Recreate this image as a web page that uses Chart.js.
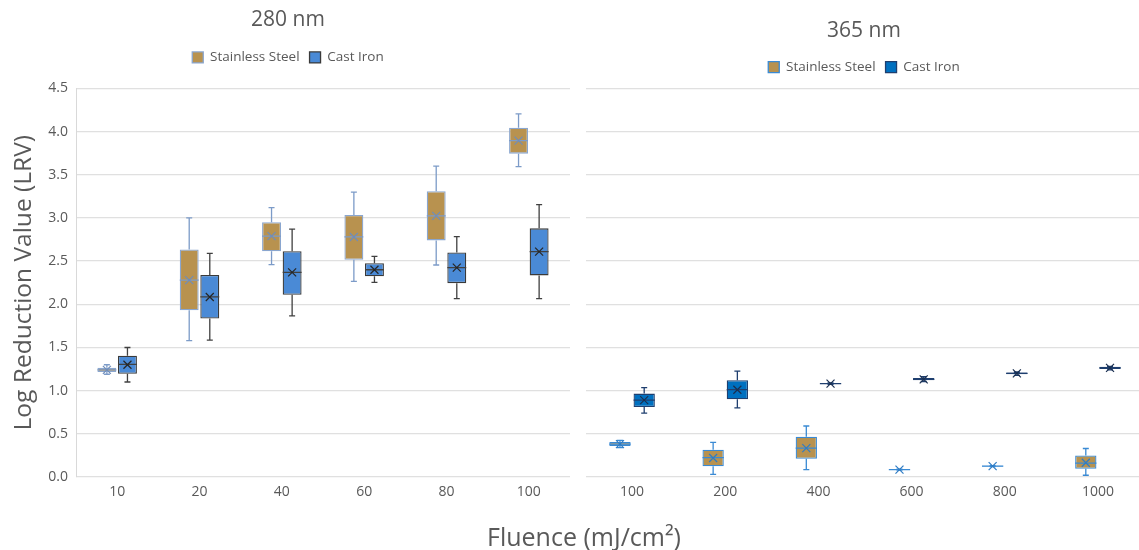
<!DOCTYPE html>
<html>
<head>
<meta charset="utf-8">
<script src="https://cdn.jsdelivr.net/npm/chart.js@4/dist/chart.umd.min.js"></script>
<style>
  html, body { margin: 0; padding: 0; background: #fff; overflow: hidden; }
  body { width: 1139px; height: 550px; position: relative; }
  canvas { position: absolute; top: 0; }
  #left { left: 0; }
  #right { left: 578px; }
  #xtitle {
    position: absolute; left: 0; width: 1168px; top: 519px;
    text-align: center; font: 25px "Open Sans", sans-serif; color: #595959;
  }
</style>
</head>
<body>
<canvas id="left" width="578" height="550"></canvas>
<canvas id="right" width="578" height="550"></canvas>
<div id="xtitle">Fluence (mJ/cm²)</div>
<script>
// categories
const fluence280 = ['10', '20', '40', '60', '80', '100'];
const fluence365 = ['100', '200', '400', '600', '800', '1000'];

// box stats per category: [min, q1, median, q3, max, mean]
const steel280 = [
  [1.19, 1.215, 1.24, 1.265, 1.30, 1.24],
  [1.58, 1.93, 2.28, 2.635, 3.00, 2.28],
  [2.46, 2.615, 2.79, 2.95, 3.12, 2.79],
  [2.265, 2.515, 2.78, 3.035, 3.30, 2.78],
  [2.455, 2.74, 3.025, 3.31, 3.60, 3.025],
  [3.595, 3.745, 3.895, 4.045, 4.205, 3.895]
];
const iron280 = [
  [1.10, 1.195, 1.305, 1.405, 1.50, 1.30],
  [1.585, 1.835, 2.085, 2.34, 2.59, 2.085],
  [1.865, 2.11, 2.37, 2.615, 2.87, 2.37],
  [2.255, 2.325, 2.40, 2.475, 2.555, 2.40],
  [2.065, 2.245, 2.425, 2.60, 2.785, 2.425],
  [2.065, 2.335, 2.61, 2.88, 3.155, 2.61]
];
const steel365 = [
  [0.34, 0.36, 0.38, 0.405, 0.425, 0.38],
  [0.03, 0.125, 0.225, 0.315, 0.40, 0.22],
  [0.085, 0.21, 0.335, 0.465, 0.59, 0.335],
  [0.08, 0.082, 0.085, 0.088, 0.09, 0.085],
  [0.12, 0.122, 0.125, 0.13, 0.132, 0.125],
  [0.02, 0.095, 0.16, 0.25, 0.33, 0.165]
];
const iron365 = [
  [0.74, 0.81, 0.89, 0.965, 1.035, 0.89],
  [0.80, 0.90, 1.01, 1.12, 1.225, 1.01],
  [1.072, 1.076, 1.08, 1.084, 1.088, 1.08],
  [1.105, 1.12, 1.13, 1.145, 1.16, 1.13],
  [1.175, 1.19, 1.20, 1.21, 1.215, 1.20],
  [1.24, 1.25, 1.262, 1.275, 1.28, 1.262]
];

const tan = '#B8924F';
const font = '"Open Sans", sans-serif';
const grey = '#595959';

// whiskers, median and mean marker on top of the floating bars
const boxPlot = {
  id: 'boxPlot',
  afterDatasetsDraw(chart) {
    const ctx = chart.ctx;
    const y = chart.scales.y;
    chart.data.datasets.forEach((ds, di) => {
      const meta = chart.getDatasetMeta(di);
      meta.data.forEach((bar, i) => {
        const s = ds.stats[i];
        const x = bar.x;
        const half = bar.width / 2;
        const cap = 3;
        ctx.save();
        ctx.strokeStyle = ds.whiskerColor;
        ctx.lineWidth = 1.3;
        ctx.beginPath();
        ctx.moveTo(x, y.getPixelForValue(s[3]));
        ctx.lineTo(x, y.getPixelForValue(s[4]));
        ctx.moveTo(x - cap, y.getPixelForValue(s[4]));
        ctx.lineTo(x + cap, y.getPixelForValue(s[4]));
        ctx.moveTo(x, y.getPixelForValue(s[1]));
        ctx.lineTo(x, y.getPixelForValue(s[0]));
        ctx.moveTo(x - cap, y.getPixelForValue(s[0]));
        ctx.lineTo(x + cap, y.getPixelForValue(s[0]));
        // median
        ctx.moveTo(x - half, y.getPixelForValue(s[2]));
        ctx.lineTo(x + half, y.getPixelForValue(s[2]));
        ctx.stroke();
        // mean
        const my = y.getPixelForValue(s[5]);
        ctx.strokeStyle = ds.meanColor;
        ctx.lineWidth = 1.2;
        ctx.beginPath();
        ctx.moveTo(x - 4, my - 4); ctx.lineTo(x + 4, my + 4);
        ctx.moveTo(x - 4, my + 4); ctx.lineTo(x + 4, my - 4);
        ctx.stroke();
        ctx.restore();
      });
    });
  }
};

// extra space under the legend
const legendGap = {
  id: 'legendGap',
  beforeLayout(chart, args, opts) {
    const lg = chart.legend;
    if (lg && !lg._gap) {
      const fit = lg.fit;
      lg.fit = function () { fit.call(this); this.height += opts.extra; };
      lg._gap = true;
    }
  }
};

function makeChart(canvas, title, labels, series, cfg) {
  return new Chart(canvas, {
    type: 'bar',
    data: {
      labels: labels,
      datasets: series.map(s => ({
        label: s.label,
        data: s.stats.map(v => [v[1], v[3]]),
        stats: s.stats,
        backgroundColor: s.fill,
        borderColor: s.border,
        borderWidth: 1.3,
        borderSkipped: false,
        whiskerColor: s.whisker,
        meanColor: s.mean,
        categoryPercentage: cfg.catPct,
        barPercentage: cfg.barPct
      }))
    },
    options: {
      responsive: false,
      animation: false,
      layout: { padding: cfg.padding },
      plugins: {
        title: {
          display: true, text: title, color: grey,
          font: { family: font, size: 21, weight: 'normal' },
          padding: cfg.titlePad
        },
        legend: {
          display: true, position: 'top',
          labels: { color: grey, font: { family: font, size: 13.5 }, boxWidth: 11, boxHeight: 11, padding: 10 }
        },
        legendGap: { extra: cfg.legendExtra },
        tooltip: { enabled: false }
      },
      scales: {
        x: {
          grid: { display: false, drawTicks: false },
          border: { display: false },
          ticks: { color: grey, font: { family: font, size: 14 }, padding: 7 },
          afterFit(scale) { scale.height = 73; }
        },
        y: {
          min: 0, max: 4.5,
          grid: { color: '#e0e0e0', drawTicks: false, lineWidth: 1.3 },
          border: { display: cfg.showY, color: '#d9d9d9' },
          ticks: {
            display: cfg.showY, stepSize: 0.5, color: grey, padding: 8,
            font: { family: font, size: 14 },
            callback: v => v.toFixed(1)
          },
          title: {
            display: cfg.showY, text: 'Log Reduction Value (LRV)', color: grey,
            font: { family: font, size: 24.5 }, padding: { top: 3, bottom: 0 }
          },
          afterFit(scale) { scale.width = cfg.yWidth; }
        }
      }
    },
    plugins: [boxPlot, legendGap]
  });
}

makeChart(document.getElementById('left'), '280 nm', fluence280, [
  { label: 'Stainless Steel', stats: steel280, fill: tan, border: '#8AA6CF', whisker: '#7C9BC8', mean: '#6F8DBA' },
  { label: 'Cast Iron', stats: iron280, fill: '#4A8AD6', border: '#3A3A3A', whisker: '#404040', mean: '#262626' }
], {
  catPct: 0.5, barPct: 0.92, padding: { left: 6, right: 8 },
  titlePad: { top: 7.5, bottom: 8 }, legendExtra: 14.25, showY: true, yWidth: 70
});

makeChart(document.getElementById('right'), '365 nm', fluence365, [
  { label: 'Stainless Steel', stats: steel365, fill: tan, border: '#3A8AD4', whisker: '#3A8AD4', mean: '#2F7CC4' },
  { label: 'Cast Iron', stats: iron365, fill: '#0070C0', border: '#1F3F6F', whisker: '#1F3F6F', mean: '#1B2F50' }
], {
  catPct: 0.52, barPct: 0.88, padding: { left: 5.5, right: 11.5 },
  titlePad: { top: 18.5, bottom: 6.7 }, legendExtra: 4.25, showY: false, yWidth: 2
});
</script>
</body>
</html>
